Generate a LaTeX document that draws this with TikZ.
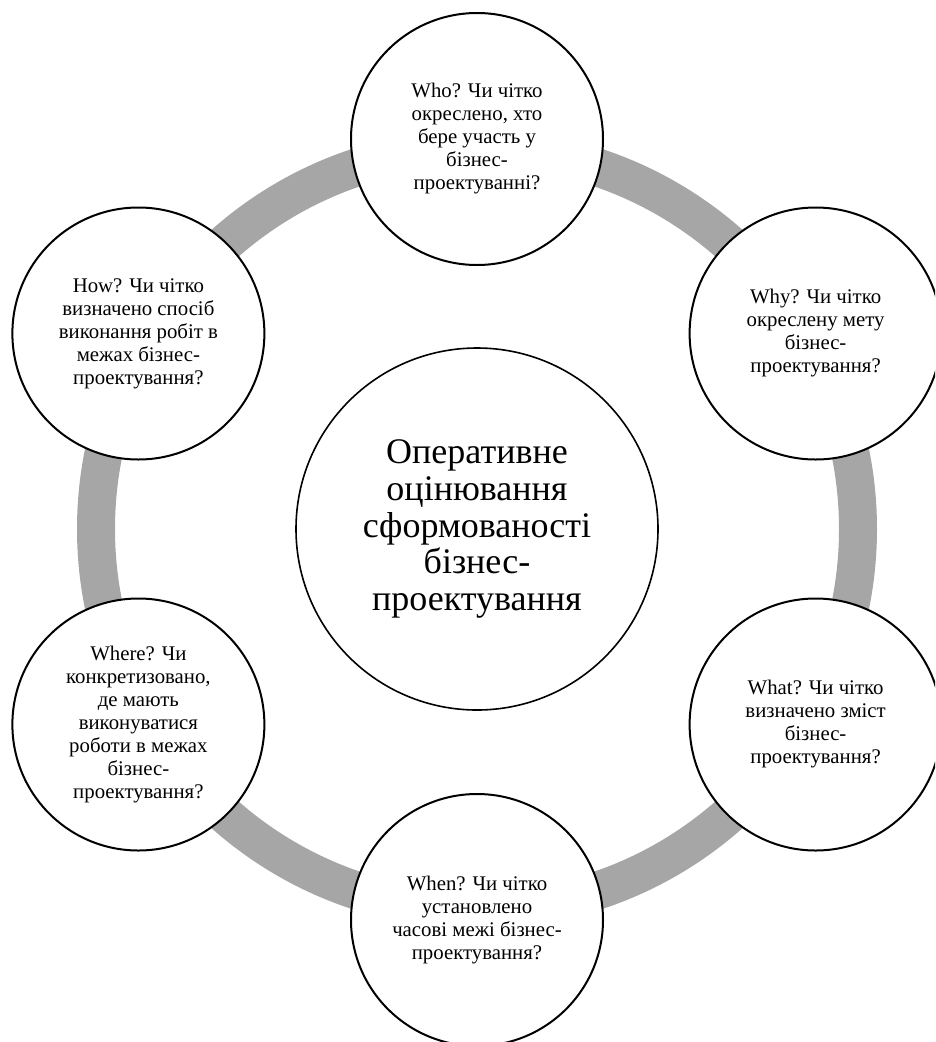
\documentclass[tikz,border=0pt]{standalone}
\usepackage{fontspec}
\usetikzlibrary{calc}
\setmainfont{Liberation Serif}
\definecolor{ringgray}{RGB}{166,166,166}
\tikzset{
  question/.style={circle, draw=black, line width=2pt, fill=white,
    minimum size=252pt, inner sep=0pt, align=center,
    font=\fontsize{20.8}{23}\selectfont},
  hub/.style={circle, draw=black, line width=1.6pt, fill=white,
    minimum size=362pt, inner sep=0pt, align=center,
    font=\fontsize{36}{36.7}\selectfont},
  loopring/.style={draw=ringgray, line width=38pt}
}
\begin{document}
% y axis points down the page, so angles run clockwise
\begin{tikzpicture}[x=1pt,y=-1pt]
  \useasboundingbox (0,0) rectangle (935,1042);
  \clip (0,0) rectangle (935,1042);
  % central hub position and the ring around it
  \coordinate (c) at (477,529);
  \draw[loopring] (c) circle (381);
  % six question circles, every 60 degrees on the ring
  \node[question] (who)   at ($(c)+(-90:390)$)  {Who? Чи чітко\\окреслено, хто\\бере участь у\\бізнес-\\проектуванні?};
  \node[question] (why)   at ($(c)+(-30:391)$)  {Why? Чи чітко\\окреслену мету\\бізнес-\\проектування?};
  \node[question] (what)  at ($(c)+(30:391)$)   {What? Чи чітко\\визначено зміст\\бізнес-\\проектування?};
  \node[question] (when)  at ($(c)+(90:391)$)   {When? Чи чітко\\установлено\\часові межі бізнес-\\проектування?};
  \node[question] (where) at ($(c)+(150:391)$)  {Where? Чи\\конкретизовано,\\де мають\\виконуватися\\роботи в межах\\бізнес-\\проектування?};
  \node[question] (how)   at ($(c)+(-150:391)$) {How? Чи чітко\\визначено спосіб\\виконання робіт в\\межах бізнес-\\проектування?};
  \node[hub] (core) at (c) {Оперативне\\оцінювання\\сформованості\\бізнес-\\проектування};
\end{tikzpicture}
\end{document}
